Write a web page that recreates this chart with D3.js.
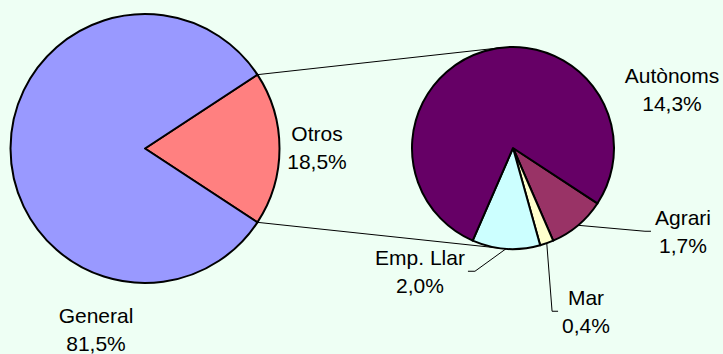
<!DOCTYPE html>
<html>
<head>
<meta charset="utf-8">
<script src="https://cdn.jsdelivr.net/npm/d3@7"></script>
<style>
  html, body { margin: 0; padding: 0; background: #EEFFF4; }
  svg { display: block; }
  text { font-family: "Liberation Sans", Arial, sans-serif; font-size: 21px; fill: #000; }
</style>
</head>
<body>
<svg id="chart" width="723" height="354"></svg>
<script>
// Main split: general scheme vs. the rest
const mainCategories = ["Otros", "General"];
const mainValues = [18.5, 81.5];
const mainColors = ["#FF8080", "#9999FF"];

// Breakdown of "Otros"
const subCategories = ["Agrari", "Mar", "Emp. Llar", "Autònoms"];
const subValues = [1.7, 0.4, 2.0, 14.3];
const subColors = ["#993366", "#FFFFCC", "#CCFFFF", "#660066"];

const svg = d3.select("#chart");
const W = 723, H = 354;

// Pie geometry
const main = { cx: 145, cy: 148.5, r: 134.5 };
const sub = { cx: 513, cy: 148, r: 101 };

// Label placement (center x, first baseline) relative to each pie's center
const lineGap = 27.5;
const labelOffsets = {
  "Otros": [172, -7.5],
  "General": [-49, 174.5],
  "Autònoms": [159, -65],
  "Agrari": [170, 77],
  "Mar": [73, 157],
  "Emp. Llar": [-93, 117]
};
const leaderSide = { "Agrari": "left", "Mar": "left", "Emp. Llar": "right" };

const fmt = v => v.toFixed(1).replace(".", ",") + "%";
const polar = (c, a, rr) => [c.cx + rr * Math.sin(a), c.cy - rr * Math.cos(a)];

// Angular layouts
const mainTotal = d3.sum(mainValues);
const otrosSpan = 2 * Math.PI * mainValues[0] / mainTotal;
const mainStart = Math.PI / 2 - otrosSpan / 2;
const mainArcs = d3.pie().sort(null).value(i => mainValues[i])
  .startAngle(mainStart).endAngle(mainStart + 2 * Math.PI)(d3.range(mainValues.length));

const subStart = Math.PI / 2 + otrosSpan / 2;
const subArcs = d3.pie().sort(null).value(i => subValues[i])
  .startAngle(subStart).endAngle(subStart + 2 * Math.PI)(d3.range(subValues.length));

// Connector lines from the "Otros" slice edges, tangent to the second pie
const connectorLayer = svg.append("g");
const otrosArc = mainArcs[0];
[[otrosArc.startAngle, -1], [otrosArc.endAngle, 1]].forEach(([a, sgn]) => {
  const p = polar(main, a, main.r);
  const dx = p[0] - sub.cx, dy = p[1] - sub.cy;
  const d = Math.hypot(dx, dy);
  const dir = Math.atan2(dy, dx);
  const t = dir - sgn * Math.acos(sub.r / d);
  const q = [sub.cx + sub.r * Math.cos(t), sub.cy + sub.r * Math.sin(t)];
  connectorLayer.append("line")
    .attr("x1", p[0]).attr("y1", p[1]).attr("x2", q[0]).attr("y2", q[1])
    .attr("stroke", "#000").attr("stroke-width", 1);
});

// Pies
function drawPie(c, arcs, colors) {
  const arc = d3.arc().innerRadius(0).outerRadius(c.r);
  svg.append("g").attr("transform", `translate(${c.cx},${c.cy})`)
    .selectAll("path").data(arcs).join("path")
    .attr("d", arc)
    .attr("fill", d => colors[d.data])
    .attr("stroke", "#000").attr("stroke-width", 2).attr("stroke-linejoin", "round");
}
drawPie(main, mainArcs, mainColors);
drawPie(sub, subArcs, subColors);

// Labels
const labelLayer = svg.append("g");
const leaderLayer = svg.append("g");
function drawLabel(c, name, value, arcDatum) {
  const [ox, oy] = labelOffsets[name];
  const x = c.cx + ox, y = c.cy + oy;
  const g = labelLayer.append("g");
  const t1 = g.append("text").attr("x", x).attr("y", y).attr("text-anchor", "middle").text(name);
  const t2 = g.append("text").attr("x", x).attr("y", y + lineGap).attr("text-anchor", "middle").text(fmt(value));
  const side = leaderSide[name];
  if (!side) return;
  const w = Math.max(t1.node().getComputedTextLength(), t2.node().getComputedTextLength());
  const midY = y + 6.25;
  const mid = (arcDatum.startAngle + arcDatum.endAngle) / 2;
  const s = polar(c, mid, c.r);
  let end, elbow;
  if (side === "left") {
    end = [x - w / 2 - 4, midY];
    elbow = [end[0] - 6, midY];
  } else {
    end = [x + w / 2 + 3, midY];
    elbow = [end[0] + 7, midY];
  }
  leaderLayer.append("path")
    .attr("d", d3.line()([s, elbow, end]))
    .attr("fill", "none").attr("stroke", "#000").attr("stroke-width", 1);
}
mainArcs.forEach(d => drawLabel(main, mainCategories[d.data], mainValues[d.data], d));
subArcs.forEach(d => drawLabel(sub, subCategories[d.data], subValues[d.data], d));
</script>
</body>
</html>
